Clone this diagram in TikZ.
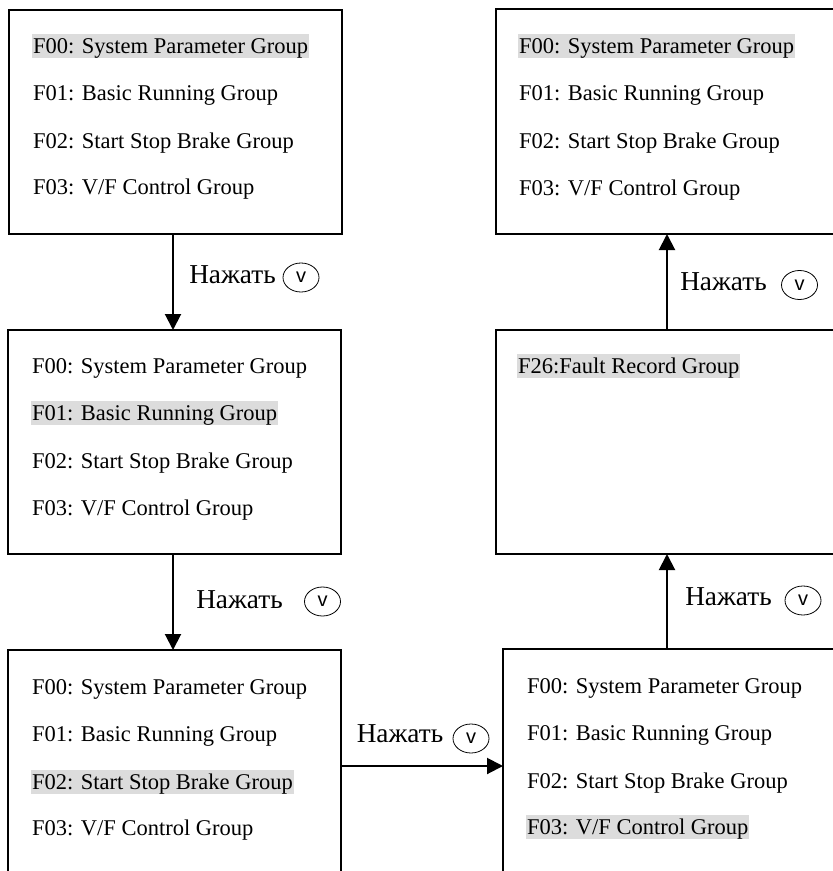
\documentclass[tikz,border=0pt]{standalone}
\usepackage{fontspec}
\setmainfont{Liberation Serif}
\newfontfamily\vfont{Liberation Sans}
\usetikzlibrary{arrows.meta,shapes.geometric}
\definecolor{hl}{HTML}{DCDCDC}
\begin{document}
\begin{tikzpicture}[x=1pt,y=-1pt,
  box/.style={draw, line width=2pt, anchor=north west, inner sep=0pt, outer sep=0pt},
  row/.style={anchor=base west, inner xsep=1pt, inner ysep=0pt, text height=19pt, text depth=5pt, font=\fontsize{22.5}{27}\selectfont},
  sel/.style={row, fill=hl},
  lbl/.style={anchor=base, inner sep=0pt, font=\fontsize{27.3}{30}\selectfont},
  key/.style={ellipse, draw, line width=0.8pt, minimum width=36pt, minimum height=29pt, inner sep=0pt, font=\vfont\fontsize{20}{20}\selectfont},
  arr/.style={line width=2pt, -{Triangle[length=16pt,width=16pt]}}]
\useasboundingbox (0,0) rectangle (833,871);
\clip (0,0) rectangle (833,871);

% boxes
\node[box, minimum width=333pt, minimum height=224pt] (A) at (9,10) {};
\node[box, minimum width=333pt, minimum height=224pt] (B) at (8,330) {};
\node[box, minimum width=333pt, minimum height=260pt] (C) at (8,650) {};
\node[box, minimum width=360pt, minimum height=225pt] (D) at (496,9) {};
\node[box, minimum width=360pt, minimum height=224pt] (E) at (496,330) {};
\node[box, minimum width=360pt, minimum height=260pt] (F) at (503,649) {};

% rows box A
\node[sel] (a0) at (32,53) {F00: System Parameter Group};
\node[row] (a1) at (32,100) {F01: Basic Running Group};
\node[row] (a2) at (32,148) {F02: Start Stop Brake Group};
\node[row] (a3) at (32,194) {F03: V/F Control Group};
% rows box B
\node[row] (b0) at (31,373) {F00: System Parameter Group};
\node[sel] (b1) at (31,420) {F01: Basic Running Group};
\node[row] (b2) at (31,468) {F02: Start Stop Brake Group};
\node[row] (b3) at (31,515) {F03: V/F Control Group};
% rows box C
\node[row] (c0) at (31,694) {F00: System Parameter Group};
\node[row] (c1) at (31,741) {F01: Basic Running Group};
\node[sel] (c2) at (31,789) {F02: Start Stop Brake Group};
\node[row] (c3) at (31,835) {F03: V/F Control Group};
% rows box D
\node[sel] (d0) at (518,53) {F00: System Parameter Group};
\node[row] (d1) at (518,100) {F01: Basic Running Group};
\node[row] (d2) at (518,148) {F02: Start Stop Brake Group};
\node[row] (d3) at (518,195) {F03: V/F Control Group};
% row box E
\node[sel] (e0) at (517,373) {F26:Fault Record Group};
% rows box F
\node[row] (f0) at (526,693) {F00: System Parameter Group};
\node[row] (f1) at (526,740) {F01: Basic Running Group};
\node[row] (f2) at (526,788) {F02: Start Stop Brake Group};
\node[sel] (f3) at (526,834) {F03: V/F Control Group};

% arrows
\coordinate (lx) at (173,0);
\coordinate (rx) at (667,0);
\coordinate (my) at (0,766);
\draw[arr] (A.south -| lx) -- (B.north -| lx);
\draw[arr] (B.south -| lx) -- (C.north -| lx);
\draw[arr] (C.east |- my) -- (F.west |- my);
\draw[arr] (F.north -| rx) -- (E.south -| rx);
\draw[arr] (E.north -| rx) -- (D.south -| rx);

% labels
\node[lbl] (l1) at (232.5,283) {Нажать};
\node[key] (k1) at (301,277.5) {v};
\node[lbl] (l2) at (239.5,608) {Нажать};
\node[key] (k2) at (322.5,601.5) {v};
\node[lbl] (l3) at (400,742) {Нажать};
\node[key] (k3) at (471,738.5) {v};
\node[lbl] (l4) at (723.5,290) {Нажать};
\node[key] (k4) at (799.5,285) {v};
\node[lbl] (l5) at (728.5,605) {Нажать};
\node[key] (k5) at (803,600.5) {v};
\end{tikzpicture}
\end{document}
